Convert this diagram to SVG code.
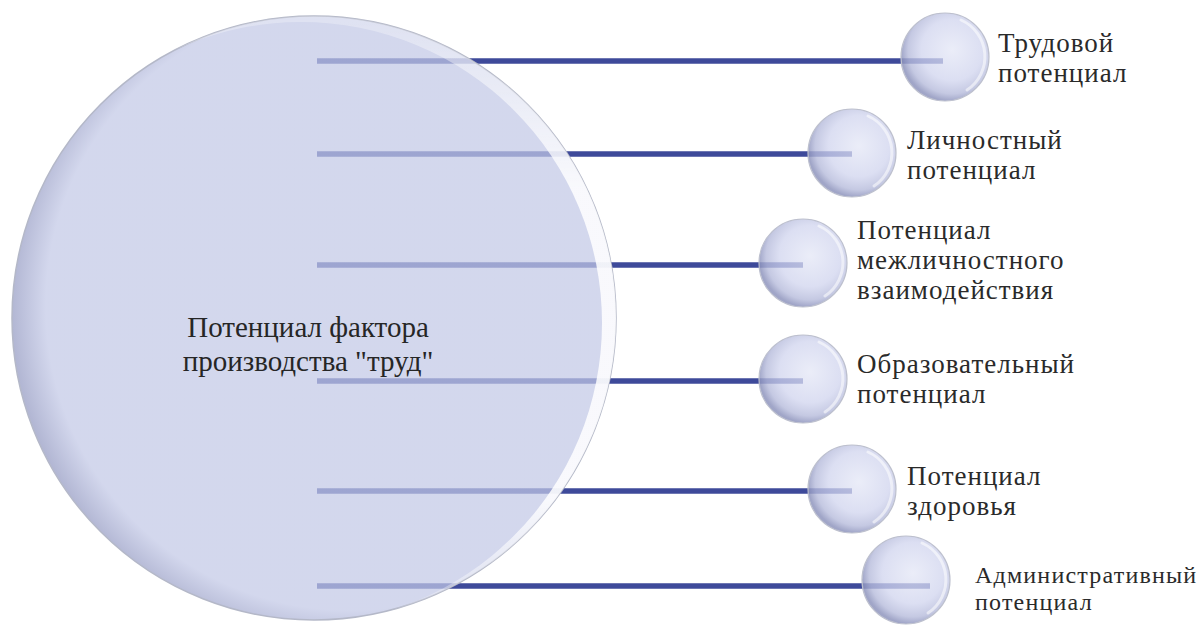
<svg xmlns="http://www.w3.org/2000/svg" width="1201" height="625" viewBox="0 0 1201 625">
  <defs>
    <style>
      .conn { stroke: #3e4a9a; stroke-width: 5.5; fill: none; }
      .lbl { font-family: 'Liberation Serif', 'DejaVu Serif', serif; font-size: 27px; letter-spacing: 1px; fill: #2a2a2a; }
      .lbl-sm { font-family: 'Liberation Serif', 'DejaVu Serif', serif; font-size: 24px; letter-spacing: 1.2px; fill: #2a2a2a; }
      .main { font-family: 'Liberation Serif', 'DejaVu Serif', serif; font-size: 29px; fill: #262626; }
    </style>
    <radialGradient id="bigFill" cx="0.56" cy="0.48" r="0.56">
      <stop offset="0" stop-color="#c2c8e6"/>
      <stop offset="0.9" stop-color="#c2c8e6"/>
      <stop offset="1" stop-color="#959bc3"/>
    </radialGradient>
    <linearGradient id="cresFade" x1="0" y1="0" x2="0" y2="1">
      <stop offset="0" stop-color="#ffffff" stop-opacity="0.2"/>
      <stop offset="0.3" stop-color="#ffffff" stop-opacity="0.85"/>
      <stop offset="0.8" stop-color="#ffffff" stop-opacity="0.85"/>
      <stop offset="1" stop-color="#ffffff" stop-opacity="0.1"/>
    </linearGradient>
    <mask id="cres" maskUnits="userSpaceOnUse" x="0" y="0" width="1201" height="625">
      <circle cx="314" cy="318" r="302" fill="#ffffff"/>
      <circle cx="301" cy="323" r="301" fill="#000000"/>
    </mask>
    <radialGradient id="ballFill" cx="0.58" cy="0.42" r="0.58">
      <stop offset="0" stop-color="#e4e7f6" stop-opacity="0.75"/>
      <stop offset="0.6" stop-color="#d0d4ee" stop-opacity="0.75"/>
      <stop offset="0.86" stop-color="#b6bbdb" stop-opacity="0.8"/>
      <stop offset="1" stop-color="#9096be" stop-opacity="0.85"/>
    </radialGradient>
    <g id="ball">
      <circle cx="0" cy="0" r="44" fill="url(#ballFill)" stroke="#bdc0ce" stroke-width="1.2"/>
      <path d="M 16 -37 A 40 40 0 0 1 22 33" fill="none" stroke="#ffffff" stroke-width="3" stroke-opacity="0.55" stroke-linecap="round"/>
    </g>
  </defs>

  <rect width="1201" height="625" fill="#ffffff"/>

  <g id="connectors">
    <line class="conn" x1="317" y1="61" x2="943" y2="61"/>
    <line class="conn" x1="317" y1="154" x2="852" y2="154"/>
    <line class="conn" x1="317" y1="265" x2="803" y2="265"/>
    <line class="conn" x1="317" y1="381" x2="803" y2="381"/>
    <line class="conn" x1="317" y1="491" x2="852" y2="491"/>
    <line class="conn" x1="317" y1="586" x2="930" y2="586"/>
  </g>

  <g id="node-main">
    <circle cx="314" cy="318" r="302" fill="url(#bigFill)" fill-opacity="0.72" stroke="#b4b8c8" stroke-width="1.5"/>
    <rect x="0" y="0" width="640" height="625" fill="url(#cresFade)" mask="url(#cres)"/>
    <text class="main" x="308" y="337" text-anchor="middle">Потенциал фактора</text>
    <text class="main" x="308" y="371" text-anchor="middle">производства "труд"</text>
  </g>

  <g id="node-labor">
    <use href="#ball" x="945" y="57"/>
    <text class="lbl" x="998" y="52">Трудовой</text>
    <text class="lbl" x="998" y="82">потенциал</text>
  </g>

  <g id="node-personal">
    <use href="#ball" x="852" y="153"/>
    <text class="lbl" x="907" y="149">Личностный</text>
    <text class="lbl" x="907" y="179">потенциал</text>
  </g>

  <g id="node-interpersonal">
    <use href="#ball" x="803" y="263"/>
    <text class="lbl" x="857" y="239">Потенциал</text>
    <text class="lbl" x="857" y="269">межличностного</text>
    <text class="lbl" x="857" y="299">взаимодействия</text>
  </g>

  <g id="node-education">
    <use href="#ball" x="803" y="379"/>
    <text class="lbl" x="857" y="373">Образовательный</text>
    <text class="lbl" x="857" y="403">потенциал</text>
  </g>

  <g id="node-health">
    <use href="#ball" x="852" y="489"/>
    <text class="lbl" x="907" y="485">Потенциал</text>
    <text class="lbl" x="907" y="515">здоровья</text>
  </g>

  <g id="node-admin">
    <use href="#ball" x="906" y="580"/>
    <text class="lbl-sm" x="975" y="583">Административный</text>
    <text class="lbl-sm" x="975" y="610">потенциал</text>
  </g>
</svg>
